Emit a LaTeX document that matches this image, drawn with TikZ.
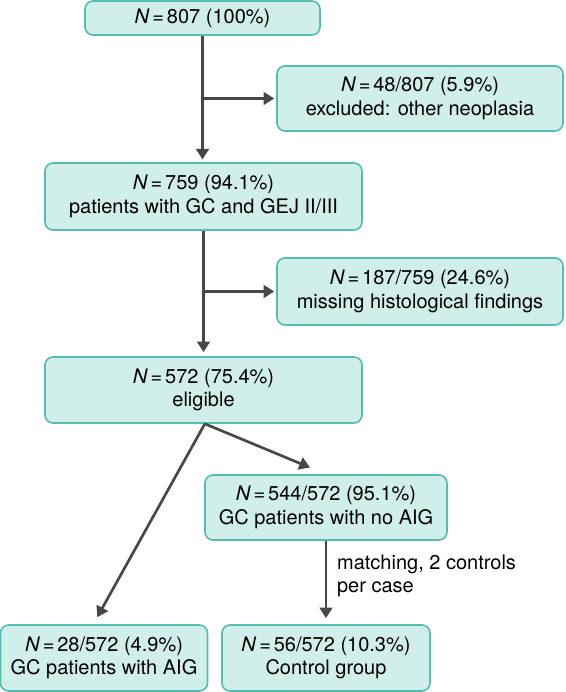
\documentclass[tikz,border=0pt]{standalone}
\usepackage{fontspec}
\setmainfont{TeX Gyre Heros}
\usetikzlibrary{arrows.meta, positioning, calc}

\definecolor{boxfill}{HTML}{D0EEEA}
\definecolor{boxline}{HTML}{55BCB1}
\definecolor{arrowgray}{HTML}{474747}
\newcommand{\Neq}{\textit{N}\hspace{0.14em}=\hspace{0.14em}}

\begin{document}
\begin{tikzpicture}[x=0.75pt, y=0.75pt,
    box/.style={draw=boxline, fill=boxfill, line width=1.2pt, rounded corners=6pt, align=center, inner sep=0pt, font=\fontsize{15}{17.5}\selectfont},
    arr/.style={draw=arrowgray, line width=2pt, -{Triangle[length=8pt, width=9.5pt]}}]
        % Flowchart for patient selection
        \useasboundingbox (0,0) rectangle (565,692);
        \node[box, minimum width=176.25pt, minimum height=25.5pt] (total) at (202.5,674) {\Neq 807 (100\%)};
        \node[box, minimum width=214.5pt, minimum height=48.75pt] (neopl) at (420,593.5) {\Neq 48/807 (5.9\%)\\excluded: other neoplasia};
        \node[box, minimum width=237.75pt, minimum height=50.25pt] (gcgej) at (203.5,495.5) {\Neq 759 (94.1\%)\\patients with GC and GEJ II/III};
        \node[box, minimum width=214.5pt, minimum height=50.25pt] (histo) at (420,400.5) {\Neq 187/759 (24.6\%)\\missing histological findings};
        \node[box, minimum width=237.75pt, minimum height=49.5pt] (elig) at (203.5,302) {\Neq 572 (75.4\%)\\eligible};
        \node[box, minimum width=181.5pt, minimum height=48.75pt] (noaig) at (326,184.5) {\Neq 544/572 (95.1\%)\\GC patients with no AIG};
        \node[box, minimum width=155.25pt, minimum height=49.5pt] (aig) at (104,34) {\Neq 28/572 (4.9\%)\\GC patients with AIG};
        \node[box, minimum width=156pt, minimum height=49.5pt] (ctrl) at (326,34) {\Neq 56/572 (10.3\%)\\Control group};

        \coordinate (j1) at (total.south |- neopl.west);
        \coordinate (j2) at (gcgej.south |- histo.west);
        \coordinate (split) at ([xshift=1pt]elig.south);

        \draw[arr, shorten >=2pt] (total.south) -- (total.south |- gcgej.north);
        \draw[arr, shorten >=1.5pt] (j1) -- (neopl.west);
        \draw[arr, shorten >=3pt] (gcgej.south) -- (gcgej.south |- elig.north);
        \draw[arr, shorten >=1.5pt] (j2) -- (histo.west);
        \draw[arr, shorten >=13pt] (split) -- (noaig.north);
        \draw[arr, shorten >=6pt] (split) -- ([xshift=-8pt]aig.north);
        \draw[arr, shorten >=4.5pt] (noaig.south) -- node[pos=0.42, right=4pt, align=left, font=\fontsize{15}{17.5}\selectfont] (match) {matching, 2 controls\\per case} (ctrl.north);
\end{tikzpicture}
\end{document}
